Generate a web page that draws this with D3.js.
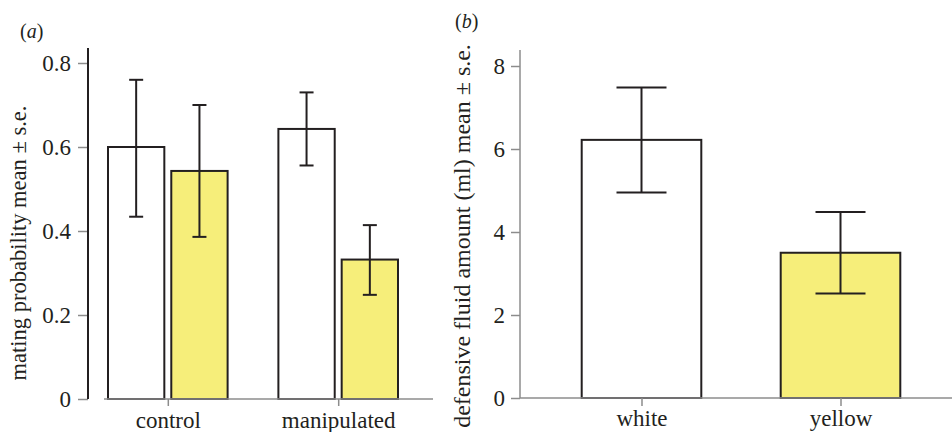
<!DOCTYPE html>
<html>
<head>
<meta charset="utf-8">
<script src="https://cdn.jsdelivr.net/npm/d3@7"></script>
<style>
  body { margin: 0; background: #fff; }
  svg { display: block; }
  svg text { font-family: "Liberation Serif", "Tinos", "Times New Roman", "DejaVu Serif", serif; }
</style>
</head>
<body>
<svg id="chart" width="952" height="432"></svg>
<script>
// panel (a): mating probability
const groupsA = ["control", "manipulated"];
const morphs = ["white", "yellow"];
const meanA = [[0.600, 0.543], [0.643, 0.332]];
const upperA = [[0.760, 0.700], [0.730, 0.414]];
const lowerA = [[0.434, 0.386], [0.556, 0.248]];
const ticksA = [0, 0.2, 0.4, 0.6, 0.8];

// panel (b): defensive fluid amount
const groupsB = ["white", "yellow"];
const meanB = [6.22, 3.50];
const upperB = [7.48, 4.48];
const lowerB = [4.95, 2.52];
const ticksB = [0, 2, 4, 6, 8];

const fillColor = { white: "#ffffff", yellow: "#f6ee7a" };
const ink = "#231f20";
const grey = "#8c8c8c";
const tickFont = 23;

const svg = d3.select("#chart");

// ---------- panel (a)
const xA = d3.scaleBand().domain(groupsA).range([108, 398]).paddingInner(0.298).paddingOuter(0);
const xA2 = d3.scaleBand().domain(morphs).range([0, xA.bandwidth()]).paddingInner(0.11);
const yA = d3.scaleLinear().domain([0, 0.8]).range([399, 63]);

const gA = svg.append("g");

const barsA = gA.selectAll("g.grp")
  .data(groupsA)
  .join("g")
  .attr("transform", d => `translate(${xA(d)},0)`);

barsA.each(function (grp, gi) {
  const g = d3.select(this);
  morphs.forEach((m, mi) => {
    const x0 = xA2(m);
    const w = xA2.bandwidth();
    g.append("rect")
      .attr("x", x0)
      .attr("y", yA(meanA[gi][mi]))
      .attr("width", w)
      .attr("height", yA(0) - yA(meanA[gi][mi]))
      .attr("fill", fillColor[m])
      .attr("stroke", ink)
      .attr("stroke-width", 2);
    const cx = x0 + w / 2;
    g.append("line")
      .attr("x1", cx).attr("x2", cx)
      .attr("y1", yA(upperA[gi][mi])).attr("y2", yA(lowerA[gi][mi]))
      .attr("stroke", ink).attr("stroke-width", 2);
    [upperA[gi][mi], lowerA[gi][mi]].forEach(v => {
      g.append("line")
        .attr("x1", cx - 7).attr("x2", cx + 7)
        .attr("y1", yA(v)).attr("y2", yA(v))
        .attr("stroke", ink).attr("stroke-width", 2);
    });
  });
});

// x axis (a)
gA.append("line")
  .attr("x1", 104).attr("x2", 433)
  .attr("y1", yA(0)).attr("y2", yA(0))
  .attr("stroke", grey).attr("stroke-width", 1.5);

const axA = d3.axisBottom(d3.scalePoint().domain(groupsA).range([
  xA("control") + xA.bandwidth() / 2, xA("manipulated") + xA.bandwidth() / 2
])).tickSize(7).tickPadding(6);
const axAg = gA.append("g").attr("transform", `translate(0,${yA(0)})`).call(axA);
axAg.attr("font-family", null);
axAg.select(".domain").remove();
axAg.selectAll(".tick line").attr("stroke", grey).attr("stroke-width", 1.5);
axAg.selectAll(".tick text").attr("fill", ink).attr("font-size", tickFont);

// y axis (a)
const ayA = d3.axisLeft(yA).tickValues(ticksA).tickFormat(d => d === 0 ? "0" : d3.format(".1f")(d))
  .tickSize(10).tickPadding(7);
const ayAg = gA.append("g").attr("transform", "translate(88,0)").call(ayA);
ayAg.attr("font-family", null);
ayAg.select(".domain").remove();
ayAg.selectAll(".tick line").attr("stroke", grey).attr("stroke-width", 1.5);
ayAg.selectAll(".tick text").attr("fill", ink).attr("font-size", tickFont);
gA.append("line")
  .attr("x1", 88).attr("x2", 88).attr("y1", 48).attr("y2", yA(0))
  .attr("stroke", ink).attr("stroke-width", 2);

gA.append("text")
  .attr("transform", "translate(26,243) rotate(-90)")
  .attr("text-anchor", "middle")
  .attr("font-size", 22.5)
  .attr("fill", ink)
  .text("mating probability mean ± s.e.");

gA.append("text")
  .attr("x", 20).attr("y", 38)
  .attr("font-size", 20).attr("fill", ink)
  .html('(<tspan font-style="italic">a</tspan>)');

// ---------- panel (b)
const xB = d3.scaleBand().domain(groupsB).range([581.7, 900.3]).paddingInner(0.399).paddingOuter(0);
const yB = d3.scaleLinear().domain([0, 8]).range([398, 66]);

const gB = svg.append("g");

gB.selectAll("rect.bar")
  .data(groupsB)
  .join("rect")
  .attr("class", "bar")
  .attr("x", d => xB(d))
  .attr("y", (d, i) => yB(meanB[i]))
  .attr("width", xB.bandwidth())
  .attr("height", (d, i) => yB(0) - yB(meanB[i]))
  .attr("fill", d => fillColor[d])
  .attr("stroke", ink)
  .attr("stroke-width", 2);

const errB = gB.selectAll("g.err")
  .data(groupsB)
  .join("g")
  .attr("class", "err")
  .attr("transform", d => `translate(${xB(d) + xB.bandwidth() / 2},0)`);

errB.append("line")
  .attr("y1", (d, i) => yB(upperB[i])).attr("y2", (d, i) => yB(lowerB[i]))
  .attr("stroke", ink).attr("stroke-width", 2);
errB.append("line")
  .attr("x1", -25).attr("x2", 25)
  .attr("y1", (d, i) => yB(upperB[i])).attr("y2", (d, i) => yB(upperB[i]))
  .attr("stroke", ink).attr("stroke-width", 2);
errB.append("line")
  .attr("x1", -25).attr("x2", 25)
  .attr("y1", (d, i) => yB(lowerB[i])).attr("y2", (d, i) => yB(lowerB[i]))
  .attr("stroke", ink).attr("stroke-width", 2);

gB.append("line")
  .attr("x1", 520).attr("x2", 952)
  .attr("y1", yB(0)).attr("y2", yB(0))
  .attr("stroke", grey).attr("stroke-width", 1.5);

const axB = d3.axisBottom(d3.scalePoint().domain(groupsB).range([
  xB("white") + xB.bandwidth() / 2, xB("yellow") + xB.bandwidth() / 2
])).tickSize(8).tickPadding(4);
const axBg = gB.append("g").attr("transform", `translate(0,${yB(0)})`).call(axB);
axBg.attr("font-family", null);
axBg.select(".domain").remove();
axBg.selectAll(".tick line").attr("stroke", grey).attr("stroke-width", 1.5);
axBg.selectAll(".tick text").attr("fill", ink).attr("font-size", tickFont);

const ayB = d3.axisLeft(yB).tickValues(ticksB).tickFormat(d3.format("d"))
  .tickSize(9).tickPadding(6);
const ayBg = gB.append("g").attr("transform", "translate(520,0)").call(ayB);
ayBg.attr("font-family", null);
ayBg.select(".domain").remove();
ayBg.selectAll(".tick line").attr("stroke", grey).attr("stroke-width", 1.5);
ayBg.selectAll(".tick text").attr("fill", ink).attr("font-size", tickFont);
gB.append("line")
  .attr("x1", 520).attr("x2", 520).attr("y1", 50).attr("y2", yB(0))
  .attr("stroke", grey).attr("stroke-width", 1.5);

gB.append("text")
  .attr("transform", "translate(470,236) rotate(-90)")
  .attr("text-anchor", "middle")
  .attr("font-size", 24)
  .attr("fill", ink)
  .text("defensive fluid amount (ml) mean ± s.e.");

gB.append("text")
  .attr("x", 455).attr("y", 28)
  .attr("font-size", 20).attr("fill", ink)
  .html('(<tspan font-style="italic">b</tspan>)');
</script>
</body>
</html>
